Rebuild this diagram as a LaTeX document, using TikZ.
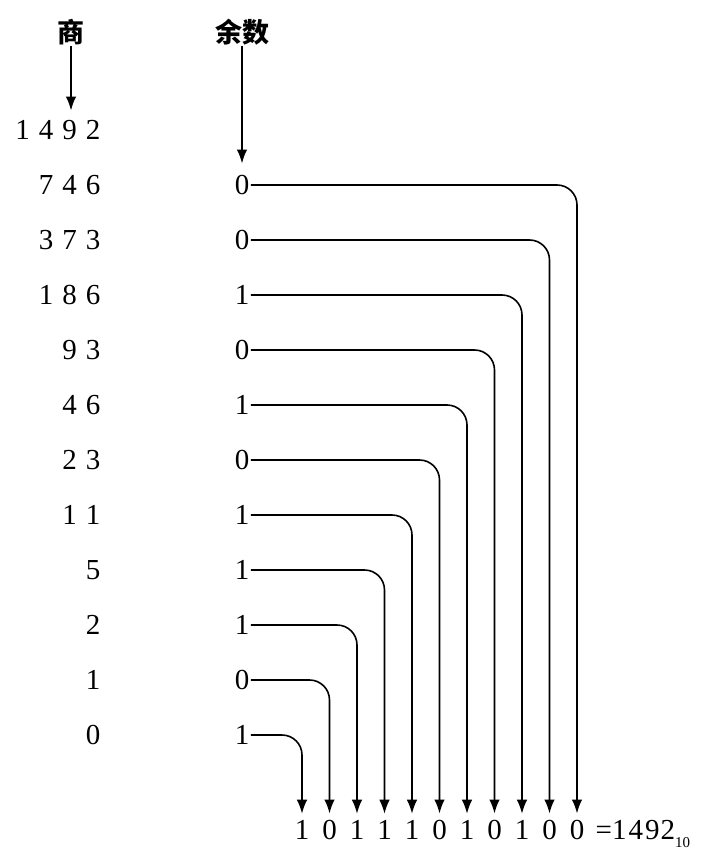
\documentclass[tikz,border=0pt]{standalone}
\usepackage{fontspec}
\setmainfont{Liberation Serif}
\newfontfamily\cjk{Noto Sans CJK SC}
\usetikzlibrary{arrows.meta}
\newcommand\dgap{\hspace{0.31em}}
\begin{document}
\begin{tikzpicture}[x=1pt,y=-1pt,
  dig/.style={font=\fontsize{29}{32}\selectfont, inner sep=1.5pt},
  hdr/.style={font=\cjk\bfseries\fontsize{27}{30}\selectfont, inner sep=1pt},
  arr/.style={line width=1.6pt, -{Latex[length=14pt,width=10.5pt]}},
  conn/.style={arr, rounded corners=20pt, shorten >=5pt}]
\useasboundingbox[fill=white] (0,0) rectangle (706,864);
% headers
\node[hdr] (shang) at (71,32) {商};
\node[hdr] (yushu) at (242,32) {余数};
% quotients
\node[dig,anchor=east] (q0) at (102,130) {1\dgap4\dgap9\dgap2};
\node[dig,anchor=east] (q1) at (102,185) {7\dgap4\dgap6};
\node[dig,anchor=east] (q2) at (102,240) {3\dgap7\dgap3};
\node[dig,anchor=east] (q3) at (102,295) {1\dgap8\dgap6};
\node[dig,anchor=east] (q4) at (102,350) {9\dgap3};
\node[dig,anchor=east] (q5) at (102,405) {4\dgap6};
\node[dig,anchor=east] (q6) at (102,460) {2\dgap3};
\node[dig,anchor=east] (q7) at (102,515) {1\dgap1};
\node[dig,anchor=east] (q8) at (102,570) {5};
\node[dig,anchor=east] (q9) at (102,625) {2};
\node[dig,anchor=east] (q10) at (102,680) {1};
\node[dig,anchor=east] (q11) at (102,735) {0};
% remainders
\node[dig] (r1) at (242,185) {0};
\node[dig] (r2) at (242,240) {0};
\node[dig] (r3) at (242,295) {1};
\node[dig] (r4) at (242,350) {0};
\node[dig] (r5) at (242,405) {1};
\node[dig] (r6) at (242,460) {0};
\node[dig] (r7) at (242,515) {1};
\node[dig] (r8) at (242,570) {1};
\node[dig] (r9) at (242,625) {1};
\node[dig] (r10) at (242,680) {0};
\node[dig] (r11) at (242,735) {1};
% bottom digits
\node[dig] (b1) at (302,830) {1};
\node[dig] (b2) at (329.5,830) {0};
\node[dig] (b3) at (357,830) {1};
\node[dig] (b4) at (384.5,830) {1};
\node[dig] (b5) at (412,830) {1};
\node[dig] (b6) at (439.5,830) {0};
\node[dig] (b7) at (467,830) {1};
\node[dig] (b8) at (494.5,830) {0};
\node[dig] (b9) at (522,830) {1};
\node[dig] (b10) at (549.5,830) {0};
\node[dig] (b11) at (577,830) {0};
\node[dig,anchor=base west] (res) at (594,839.5) {=1\kern2pt4\kern2pt9\kern1pt2\raisebox{-8pt}{\fontsize{15}{16}\selectfont 10}};
% header arrows
\draw[arr, shorten >=8pt] (shang.south) -- (shang.south |- q0.north);
\draw[arr, shorten >=10pt] (yushu.south) -- (r1.north);
% connectors
\draw[conn] (r1.east) -| (b11.north);
\draw[conn] (r2.east) -| (b10.north);
\draw[conn] (r3.east) -| (b9.north);
\draw[conn] (r4.east) -| (b8.north);
\draw[conn] (r5.east) -| (b7.north);
\draw[conn] (r6.east) -| (b6.north);
\draw[conn] (r7.east) -| (b5.north);
\draw[conn] (r8.east) -| (b4.north);
\draw[conn] (r9.east) -| (b3.north);
\draw[conn] (r10.east) -| (b2.north);
\draw[conn] (r11.east) -| (b1.north);
\end{tikzpicture}
\end{document}
